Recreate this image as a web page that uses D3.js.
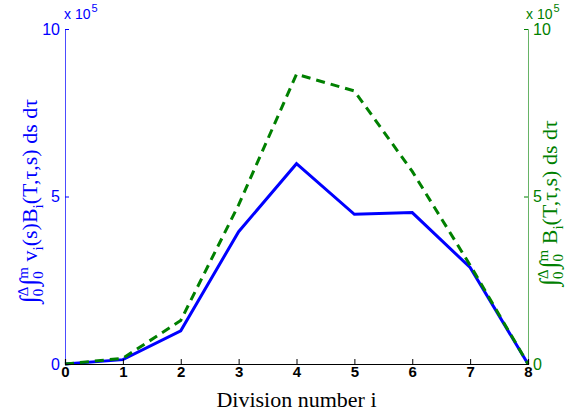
<!DOCTYPE html>
<html><head><meta charset="utf-8">
<script src="https://cdn.jsdelivr.net/npm/d3@7"></script>
<style>body{margin:0;background:#fff}svg{display:block}</style>
</head><body>
<script>
const divisions = [0,1,2,3,4,5,6,7,8];
const weighted = [0, 0.13, 0.99, 3.95, 5.98, 4.47, 4.52, 2.88, 0];
const unweighted = [0, 0.17, 1.3, 4.75, 8.65, 8.15, 5.75, 2.95, 0];
const yTicks = [0,5,10];
const W=565,H=415, L=65, R=528, T=29, B=364;
const svg=d3.select("body").append("svg").attr("width",W).attr("height",H);
const x=d3.scaleLinear().domain([0,8]).range([L,R]);
const y=d3.scaleLinear().domain([0,10]).range([B,T]);
const blue="#0000ff", green="#008000";
const sans="Liberation Sans, Arial, sans-serif", serif="Liberation Serif, Times New Roman, serif";

// lines
const line=(arr)=>d3.line().x((d,i)=>x(divisions[i])).y(d=>y(d))(arr);
svg.append("path").attr("d",line(weighted)).attr("fill","none").attr("stroke",blue).attr("stroke-width",3);
svg.append("path").attr("d",line(unweighted)).attr("fill","none").attr("stroke",green).attr("stroke-width",3).attr("stroke-dasharray","9,6");

// left axis
const la=svg.append("g").attr("transform",`translate(${L},0)`).call(d3.axisLeft(y).tickValues(yTicks).tickSize(-4).tickPadding(5));
la.select(".domain").attr("stroke",blue).attr("stroke-opacity",0.7);
la.selectAll(".tick line").attr("stroke",blue);
la.selectAll("text").attr("fill",blue).attr("font-family",sans).attr("font-size",16);
// right axis
const ra=svg.append("g").attr("transform",`translate(${R},0)`).call(d3.axisRight(y).tickValues(yTicks).tickSize(-4).tickPadding(5));
ra.select(".domain").attr("stroke",green).attr("stroke-opacity",0.6);
ra.selectAll(".tick line").attr("stroke",green);
ra.selectAll("text").attr("fill",green).attr("font-family",sans).attr("font-size",16);
// bottom axis
const ba=svg.append("g").attr("transform",`translate(0,${B})`).call(d3.axisBottom(x).tickValues(divisions).tickFormat(d3.format("d")).tickSize(-5).tickPadding(2));
ba.select(".domain").attr("stroke","#000").attr("stroke-width",1.2);
ba.selectAll(".tick line").attr("stroke","#000");
ba.selectAll("text").attr("fill","#000").attr("font-family",sans).attr("font-size",15).attr("font-weight","bold").attr("dy","0.71em");

// exponent labels
function expo(xp,col){
  const t=svg.append("text").attr("x",xp).attr("y",19).attr("fill",col).attr("font-family",sans).attr("font-size",14);
  t.append("tspan").text("x 10");
  t.append("tspan").attr("dy",-7).attr("dx",1).attr("font-size",11).text("5");
}
expo(64,blue); expo(526,green);

// x label
svg.append("text").attr("x",(L+R)/2).attr("y",407).attr("text-anchor","middle").attr("font-family",serif).attr("font-size",22).text("Division number i");

// y labels
function ylab(cx,cy,col,parts){
  const t=svg.append("text").attr("transform",`translate(${cx},${cy}) rotate(-90)`).attr("text-anchor","middle").attr("fill",col).attr("font-family",serif).attr("font-size",22);
  parts.forEach(p=>{const s=t.append("tspan").attr("dy",p[1]).attr("font-size",p[2]||22).text(p[0]); if(p[3]) s.attr("dx",p[3]);});
}
const common=[["\u222B",0,25],["0",6,15],["\u0394",-15,15,-7.5],["\u222B",9,25,1],["0",6,15],["m",-15,15,-7.5],];
ylab(37,201,blue,[...common,[" v",9],["i",6,15],["(s)B",-6],["i",6,15],["(T,\u03C4,s) ds d\u03C4",-6]]);
ylab(557,203,green,[...common,[" B",9],["i",6,15],["(T,\u03C4,s) ds d\u03C4",-6]]);
</script>
</body></html>
